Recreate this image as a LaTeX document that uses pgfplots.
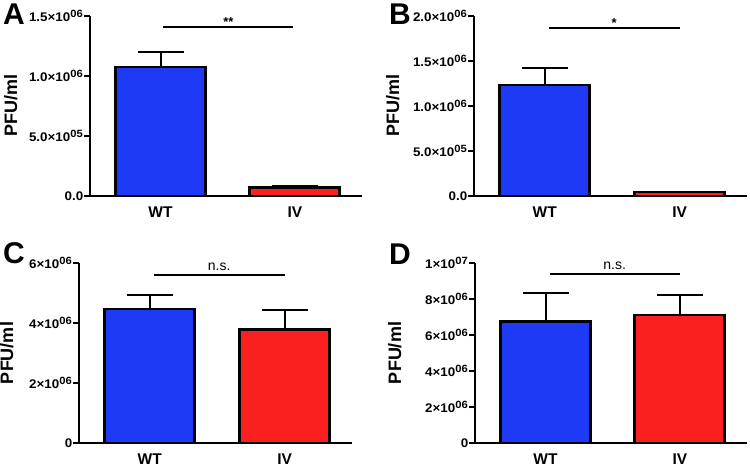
\documentclass[border=0pt]{standalone}
\usepackage{fontspec}
\setmainfont{Liberation Sans}
\newfontfamily\tickfont{Liberation Sans}[FakeStretch=1.07]
\usepackage{pgfplots}
\pgfplotsset{compat=1.18}
\definecolor{barblue}{RGB}{30,58,245}
\definecolor{barred}{RGB}{250,32,32}
\tikzset{sig/.style={line width=1.8bp}}
\newcommand{\sci}[2]{#1×10\textsuperscript{\fontsize{10.5bp}{10bp}\selectfont #2}}
\pgfplotsset{
  panel/.style={
    scale only axis, height=180bp,
    axis lines=left, axis line style={-, line width=2.8bp, black},
    xmin=-0.525, xmax=1.5, ymin=0, enlarge y limits=false,
    xtick={0,1}, xticklabels={WT,IV}, xtick style={draw=none},
    xticklabel style={font=\fontsize{15.5bp}{17bp}\selectfont\bfseries, yshift=-1bp},
    ytick style={line width=2bp, black}, major tick length=6bp, tick align=outside,
    yticklabel style={font=\tickfont\fontsize{12.5bp}{15bp}\selectfont\bfseries, inner xsep=0.5bp},
    ylabel={PFU/ml}, ylabel style={font=\fontsize{18bp}{20bp}\selectfont\bfseries, anchor=south},
    scaled y ticks=false, clip=false,
  },
  pbar/.style={ybar, bar width=90bp, bar shift=0pt, fill=#1, draw=black, line width=2.8bp,
    error bars/.cd, y dir=plus, y explicit,
    error mark options={rotate=90, black, mark size=23bp, line width=2bp},
    error bar style={black, line width=2bp}},
}
\begin{document}
\begin{tikzpicture}
\useasboundingbox (0,0) rectangle (750bp,466bp);
% Panel A
\begin{axis}[panel, at={(90bp,270bp)}, anchor=south west, width=272bp, ymax=1.5e6,
  ytick={0,5e5,1e6,1.5e6},
  yticklabels={0.0,\sci{5.0}{05},\sci{1.0}{06},\sci{1.5}{06}},
  ylabel style={at={(axis description cs:-0.254,0.5)}}]
\addplot[pbar=barblue] coordinates {(0,1.075e6) +- (0,0.129e6)};
\addplot[pbar=barred] coordinates {(1,0.071e6) +- (0,0.012e6)};
\draw[sig] (axis cs:0.02,1.408e6) -- (axis cs:0.99,1.408e6)
  node[midway, above, inner sep=0pt, font=\fontsize{13bp}{15bp}\selectfont\bfseries] {**};
\end{axis}
% Panel B
\begin{axis}[panel, at={(474bp,270bp)}, anchor=south west, width=273bp, ymax=2e6,
  ytick={0,5e5,1e6,1.5e6,2e6},
  yticklabels={0.0,\sci{5.0}{05},\sci{1.0}{06},\sci{1.5}{06},\sci{2.0}{06}},
  ylabel style={at={(axis description cs:-0.26,0.5)}}]
\addplot[pbar=barblue] coordinates {(0,1.233e6) +- (0,0.193e6)};
\addplot[pbar=barred] coordinates {(1,0.044e6) +- (0,0.004e6)};
\draw[sig] (axis cs:0.03,1.867e6) -- (axis cs:1.0,1.867e6)
  node[midway, above, inner sep=0pt, font=\fontsize{13bp}{15bp}\selectfont\bfseries] {*};
\end{axis}
% Panel C
\begin{axis}[panel, at={(79bp,23bp)}, anchor=south west, width=273bp, ymax=6e6,
  ytick={0,2e6,4e6,6e6},
  yticklabels={0,\sci{2}{06},\sci{4}{06},\sci{6}{06}},
  ylabel style={at={(axis description cs:-0.227,0.5)}}]
\addplot[pbar=barblue] coordinates {(0,4.47e6) +- (0,0.47e6)};
\addplot[pbar=barred] coordinates {(1,3.79e6) +- (0,0.64e6)};
\draw[sig] (axis cs:0.03,5.61e6) -- (axis cs:1.0,5.61e6)
  node[midway, above, inner sep=0pt, yshift=3.5bp, font=\fontsize{14bp}{16bp}\selectfont] {n.s.};
\end{axis}
% Panel D
\begin{axis}[panel, at={(475bp,23bp)}, anchor=south west, width=272bp, ymax=1e7,
  ytick={0,2e6,4e6,6e6,8e6,1e7},
  yticklabels={0,\sci{2}{06},\sci{4}{06},\sci{6}{06},\sci{8}{06},\sci{1}{07}},
  ylabel style={at={(axis description cs:-0.257,0.5)}}]
\addplot[pbar=barblue] coordinates {(0,6.76e6) +- (0,1.56e6)};
\addplot[pbar=barred] coordinates {(1,7.11e6) +- (0,1.11e6)};
\draw[sig] (axis cs:0.03,9.37e6) -- (axis cs:1.0,9.37e6)
  node[midway, above, inner sep=0pt, yshift=3.5bp, font=\fontsize{14bp}{16bp}\selectfont] {n.s.};
\end{axis}
\node[font=\fontsize{30bp}{31bp}\selectfont\bfseries] at (14bp,452bp) {A};
\node[font=\fontsize{30bp}{31bp}\selectfont\bfseries] at (400bp,452bp) {B};
\node[font=\fontsize{30bp}{31bp}\selectfont\bfseries] at (14bp,213bp) {C};
\node[font=\fontsize{30bp}{31bp}\selectfont\bfseries] at (400bp,212bp) {D};
\end{tikzpicture}
\end{document}
